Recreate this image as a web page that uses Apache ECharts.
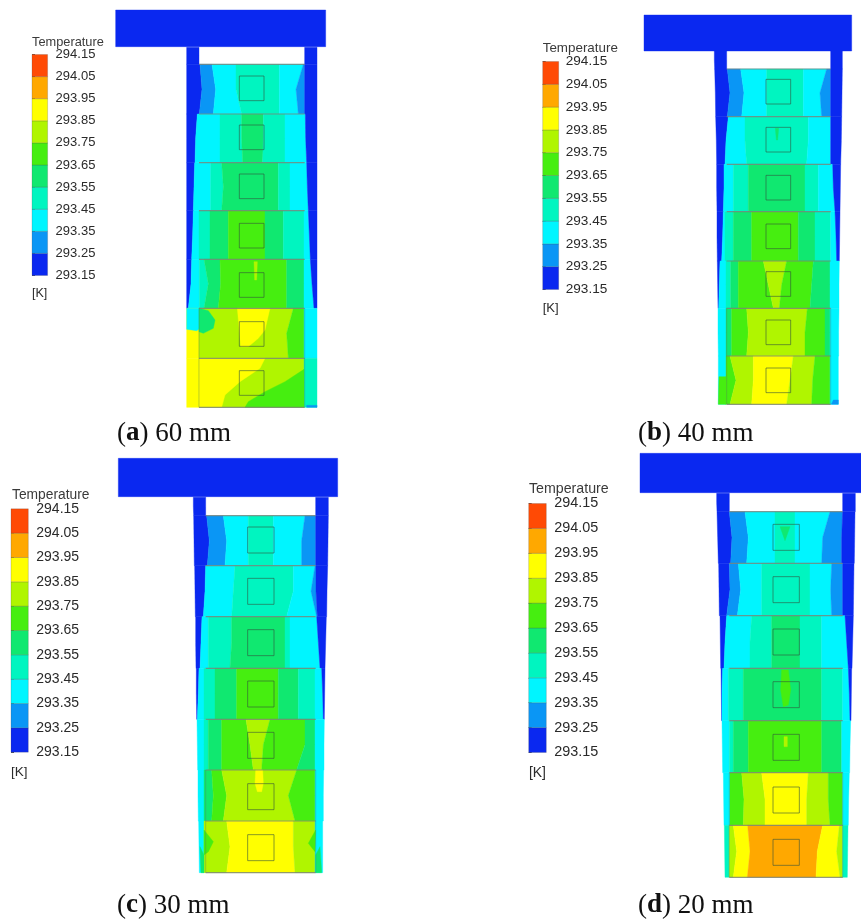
<!DOCTYPE html>
<html><head><meta charset="utf-8">
<style>html,body{margin:0;padding:0;background:#fff}#c{width:861px;height:923px;filter:blur(0.55px)}</style>
<script src="https://cdn.jsdelivr.net/npm/echarts@6/dist/echarts.min.js"></script>
</head><body><div id="c"></div>
<script>
// Temperature bands (K)
const tickLabels = ['293.15','293.25','293.35','293.45','293.55','293.65','293.75','293.85','293.95','294.05','294.15'];
const bandColors = ['#0a28f0','#0a96f5','#00f5ff','#00f5c0','#10e870','#46ee10','#b0f500','#ffff00','#ffa800','#ff4a05'];
const bandIndex = [0,1,2,3,4,5,6,7,8,9];
const captions = [['a','60 mm'],['b','40 mm'],['c','30 mm'],['d','20 mm']];

// Each row: yTop, yBottom, start edge [top,mid,bottom], then bands [level, right edge top, mid, bottom]. Level -1 = empty gap.
const rowsA = [
 [142,193,[560,560,560],[0,597,597,597],[-1,914,914,914],[0,951,951,951]],
 [193,342,[560,560,560],[0,600,606,598],[1,636,647,640],[2,708,708,725],[3,838,838,838],[2,910,888,895],[1,914,914,914],[0,951,951,951]],
 [342,488,[560,560,560],[0,592,587,585],[2,660,660,660],[3,725,725,728],[4,790,790,788],[3,855,855,855],[2,916,917,920],[0,951,951,951]],
 [488,632,[560,560,560],[0,584,582,580],[2,632,632,632],[3,665,670,665],[4,835,835,835],[3,870,870,870],[2,920,922,925],[0,951,951,951]],
 [632,778,[560,560,560],[0,580,578,575],[2,597,597,597],[3,630,630,630],[4,685,685,685],[5,795,795,795],[4,850,850,850],[3,912,912,912],[2,925,928,931],[0,951,951,951]],
 [778,925,[560,560,560],[0,575,573,565],[2,598,598,598],[3,612,625,612],[4,660,662,655],[5,860,860,860],[4,912,912,912],[2,931,936,942],[0,951,951,951]],
 [925,1075,[560,560,560],[7,597,597,597],[6,880,860,865],[5,912,912,912],[2,951,951,951]],
 [1075,1222,[560,560,560],[7,597,597,597],[6,912,912,912],[3,951,951,951]]
];
const patchesA = [
 [2,560,925,597,925,600,985,590,992,560,988],
 [4,597,925,625,932,645,960,640,985,610,1000,597,995],
 [7,712,925,810,925,795,990,775,1015,745,1040,722,1040],
 [7,597,1075,795,1075,780,1105,720,1145,675,1185,665,1222,597,1222],
 [5,912,1108,855,1145,795,1175,745,1205,735,1222,912,1222],
 [6,762,785,772,785,770,840,764,840],
 [1,920,1216,951,1216,951,1222,920,1222]
];
const rowsB = [
 [153,207,[583,583,584],[0,620,620,620],[-1,932,932,932],[0,967,967,967]],
 [207,350,[584,586,587],[0,622,630,622],[1,662,672,665],[2,740,740,740],[3,850,850,850],[2,920,900,905],[1,932,932,932],[0,967,966,965]],
 [350,493,[587,589,590],[0,625,618,615],[2,675,675,680],[3,865,865,860],[2,932,932,932],[0,965,964,962]],
 [493,635,[590,590,591],[0,612,612,610],[2,640,640,640],[3,685,685,685],[4,855,855,855],[3,895,895,895],[2,938,940,945],[0,962,961,960]],
 [635,783,[591,591,592],[0,610,608,605],[2,615,615,615],[3,640,640,640],[4,695,695,695],[5,835,835,835],[4,885,885,885],[3,932,932,932],[2,945,948,950],[0,960,959,958]],
 [783,925,[592,593,594],[0,600,598,596],[2,618,618,618],[3,632,632,632],[4,655,655,655],[5,730,745,760],[6,800,785,778],[5,880,875,870],[4,930,930,930],[2,958,957,957]],
 [925,1068,[594,594,595],[2,618,618,618],[4,635,635,635],[5,680,685,680],[6,862,855,855],[5,915,915,915],[4,930,930,930],[2,957,956,956]],
 [1068,1213,[595,595,595],[2,618,618,618],[5,630,648,630],[6,700,700,695],[7,820,810,800],[6,885,878,875],[5,930,930,930],[2,955,955,955]]
];
const patchesB = [
 [5,597,1130,618,1130,618,1213,595,1213],
 [4,766,385,776,385,773,420,769,420],
 [1,940,1200,955,1200,955,1213,934,1213]
];
const rowsC = [
 [142,197,[580,580,581],[0,617,617,617],[-1,947,947,947],[0,985,985,985]],
 [197,347,[581,582,583],[0,620,628,622],[1,670,680,675],[2,745,745,745],[3,820,820,820],[2,915,905,905],[1,947,947,947],[0,985,984,983]],
 [347,500,[584,585,586],[0,617,615,610],[2,705,700,695],[3,880,880,860],[2,945,933,950],[1,948,948,952],[0,983,981,980]],
 [500,655,[587,587,588],[0,606,603,600],[2,625,625,625],[3,695,695,690],[4,855,855,855],[3,870,870,870],[2,950,955,960],[0,979,977,975]],
 [655,808,[589,589,590],[0,597,595,592],[2,612,612,612],[3,645,645,645],[4,710,710,710],[5,835,835,835],[4,895,895,895],[3,945,945,945],[2,965,968,970],[0,975,974,973]],
 [808,960,[591,592,593],[2,612,612,612],[3,625,625,625],[4,665,665,665],[5,738,750,760],[6,810,790,785],[5,915,915,890],[4,945,945,945],[2,973,972,972]],
 [960,1113,[594,594,595],[2,612,612,612],[4,635,640,635],[5,665,680,670],[6,890,865,885],[5,945,945,945],[2,971,970,970]],
 [1113,1268,[596,597,598],[2,612,612,612],[6,680,690,680],[7,880,880,885],[6,945,945,945],[2,968,968,968]]
];
const patchesC = [
 [7,767,960,788,960,790,1000,785,1025,772,1025,765,1000],
 [5,612,1140,640,1175,625,1205,612,1215],
 [5,947,1140,925,1180,945,1205],
 [4,600,1190,612,1215,612,1268,603,1268],
 [4,960,1190,947,1215,947,1268,965,1268]
];
const rowsD = [
 [130,185,[590,590,591],[0,628,628,628],[-1,968,968,968],[0,1006,1006,1006]],
 [185,340,[591,593,595],[0,628,636,632],[1,675,685,680],[2,765,765,765],[3,825,825,825],[2,930,908,905],[1,968,965,965],[0,1005,1004,1003]],
 [340,497,[596,597,598],[0,628,630,620],[1,655,662,652],[2,725,725,725],[3,870,870,870],[2,935,932,935],[1,968,968,968],[0,1002,1001,1000]],
 [497,655,[600,601,602],[0,620,615,612],[2,695,690,690],[3,755,755,755],[4,840,840,840],[3,905,905,905],[2,975,980,985],[0,1000,998,996]],
 [655,812,[603,604,605],[0,608,606,606],[2,625,625,625],[3,670,670,670],[4,905,905,905],[3,968,968,968],[2,985,988,990],[0,995,994,993]],
 [812,968,[606,607,608],[2,628,628,628],[3,640,640,640],[4,685,685,685],[5,905,905,905],[4,965,965,965],[2,992,990,989]],
 [968,1126,[610,611,612],[2,630,630,630],[5,665,672,670],[6,725,735,735],[7,865,860,860],[6,925,925,930],[5,968,968,968],[2,988,986,985]],
 [1126,1282,[613,614,615],[3,628,628,628],[6,640,650,640],[7,683,690,682],[8,908,892,888],[7,958,950,960],[6,968,968,968],[3,984,983,982]]
];
const patchesD = [
 [4,780,230,810,230,795,272],
 [5,785,660,805,660,812,720,805,765,790,770,782,720],
 [6,792,860,802,860,802,890,792,890]
];
// Top plate [x0,y0,x1,y1], square sensors, in the same figure units
const plateA=[347,30,977,140], plateB=[372,45,995,153], plateC=[355,25,1013,140], plateD=[360,10,1023,128];
const sqA=[718,792,[265,412,559,707,855,1002,1149],37];
const sqB=[738,812,[275,419,563,709,852,997,1141],37];
const sqC=[743,822,[270,424,578,732,886,1040,1193],39];
const sqD=[759,838,[262,419,576,734,892,1050,1207],39];
const innerA=[597,914], innerB=[620,932], innerC=[617,947], innerD=[628,968];

// layout only
const panels = [
 {rows:rowsA,patches:patchesA,plate:plateA,sq:sqA,inner:innerA,g:[0,0,340,450],leg:[32,54.5,15.6,221],fs:13,tx:32,ty:36,ky:287,kx:32,lm:9,cx:117,cy:420},
 {rows:rowsB,patches:patchesB,plate:plateB,sq:sqB,inner:innerB,g:[520,0,341,450],leg:[542.7,61.5,16,228],fs:13.6,tx:542.7,ty:42,ky:302,kx:542.7,lm:8,cx:638,cy:420},
 {rows:rowsC,patches:patchesC,plate:plateC,sq:sqC,inner:innerC,g:[0,450,340,473],leg:[11,508.8,17.3,243.4],fs:14,tx:12,ty:488,ky:765,kx:11,lm:9,cx:117,cy:892},
 {rows:rowsD,patches:patchesD,plate:plateD,sq:sqD,inner:innerD,g:[520,450,341,473],leg:[528.7,503.5,17.6,249],fs:14.4,tx:529,ty:482,ky:766,kx:529,lm:9,cx:638,cy:892}
];

function buildMarks(p){
  const fills=[], lines=[];
  const a=p.plate;
  fills.push({l:0,pts:[[a[0],a[1]],[a[2],a[1]],[a[2],a[3]],[a[0],a[3]]]});
  p.rows.forEach(r=>{
    const t=r[0],b=r[1],m=(t+b)/2; let e=r[2];
    for(let i=3;i<r.length;i++){
      const q=r[i];
      if(q[0]>=0) fills.push({l:q[0],pts:[[e[0],t],[q[1],t],[q[2],m],[q[3],b],[e[2],b],[e[1],m]]});
      e=[q[1],q[2],q[3]];
    }
  });
  p.patches.forEach(q=>{const pts=[];for(let i=1;i<q.length;i+=2)pts.push([q[i],q[i+1]]);fills.push({l:q[0],pts});});
  const ys=p.rows.map(r=>r[0]).concat(p.rows[p.rows.length-1][1]);
  ys.slice(1).forEach(y=>lines.push({pts:[[p.inner[0],y],[p.inner[1],y]]}));
  const lastRows=p.rows.slice(-2);
  [p.inner[0],p.inner[1]].forEach(x=>lines.push({pts:[[x,lastRows[0][0]],[x,lastRows[1][1]]],faint:true}));
  p.sq[2].forEach(c=>{const h=p.sq[3];lines.push({close:true,pts:[[p.sq[0],c-h],[p.sq[1],c-h],[p.sq[1],c+h],[p.sq[0],c+h]]});});
  return fills.concat(lines);
}

const grid=[],xAxis=[],yAxis=[],series=[],title=[];
panels.forEach((p,idx)=>{
  // contour panel: axes in figure units
  grid.push({left:p.g[0],top:p.g[1],width:p.g[2],height:p.g[3]});
  xAxis.push({type:'value',gridIndex:grid.length-1,min:0,max:p.g[2]*3,show:false});
  yAxis.push({type:'value',gridIndex:grid.length-1,min:0,max:p.g[3]*3,inverse:true,show:false});
  const marks=buildMarks(p);
  series.push({type:'custom',xAxisIndex:grid.length-1,yAxisIndex:grid.length-1,silent:true,animation:false,clip:false,
    data:marks.map((_,i)=>[i]),
    renderItem:(params,api)=>{
      const m=marks[api.value(0)];
      const pts=m.pts.map(c=>api.coord(c));
      if(m.l===undefined){
        return {type:'polyline',shape:{points:m.close?pts.concat([pts[0]]):pts},
          style:{fill:null,stroke:m.close?'rgba(50,80,60,0.65)':(m.faint?'rgba(90,110,100,0.3)':'rgba(120,130,120,0.8)'),lineWidth:m.close?0.9:1.1}};
      }
      return {type:'polygon',shape:{points:pts},style:{fill:bandColors[m.l],stroke:bandColors[m.l],lineWidth:0.4}};
    }});
  // legend: real axis with the temperature ticks
  grid.push({left:p.leg[0],top:p.leg[1],width:p.leg[2],height:p.leg[3]});
  const gi=grid.length-1;
  xAxis.push({type:'value',gridIndex:gi,min:0,max:1,show:false});
  yAxis.push({type:'value',gridIndex:gi,min:0,max:10,interval:1,position:'right',
    splitLine:{show:false},axisLine:{show:false},
    axisTick:{show:true,length:3,lineStyle:{color:'#555',width:1}},
    axisLabel:{show:true,margin:p.lm-1,color:'#2a2a2a',fontFamily:'Liberation Sans',fontSize:p.fs,padding:[7,0,0,0],
      formatter:v=>tickLabels[Math.round(v)],showMinLabel:true,showMaxLabel:true,hideOverlap:false}});
  series.push({type:'custom',xAxisIndex:gi,yAxisIndex:gi,silent:true,animation:false,
    data:bandIndex.map(i=>[i]),
    renderItem:(params,api)=>{
      const i=api.value(0),a=api.coord([0,i+1]),b=api.coord([1,i]);
      return {type:'rect',shape:{x:a[0],y:a[1],width:b[0]-a[0],height:b[1]-a[1]},style:{fill:bandColors[i],stroke:'rgba(70,70,70,0.45)',lineWidth:0.5}};
    }});
  title.push({text:'Temperature',left:p.tx,top:p.ty,padding:0,textStyle:{fontFamily:'Liberation Sans',fontWeight:'normal',fontSize:p.fs-0.2,color:'#3a3a3a'}});
  title.push({text:'[K]',left:p.kx,top:p.ky,padding:0,textStyle:{fontFamily:'Liberation Sans',fontWeight:'normal',fontSize:p.fs-0.5,color:'#2a2a2a'}});
  title.push({text:'{n|(}{b|'+captions[idx][0]+'}{n|) '+captions[idx][1]+'}',left:p.cx,top:p.cy,padding:0,
    textStyle:{fontWeight:'normal',rich:{n:{fontFamily:'Liberation Serif',fontWeight:'normal',fontSize:27,color:'#111'},b:{fontFamily:'Liberation Serif',fontWeight:'bold',fontSize:27,color:'#111'}}}});
});

const chart=echarts.init(document.getElementById('c'),null,{renderer:'canvas',width:861,height:923});
chart.setOption({backgroundColor:'#fff',animation:false,title,grid,xAxis,yAxis,series});
</script></body></html>
